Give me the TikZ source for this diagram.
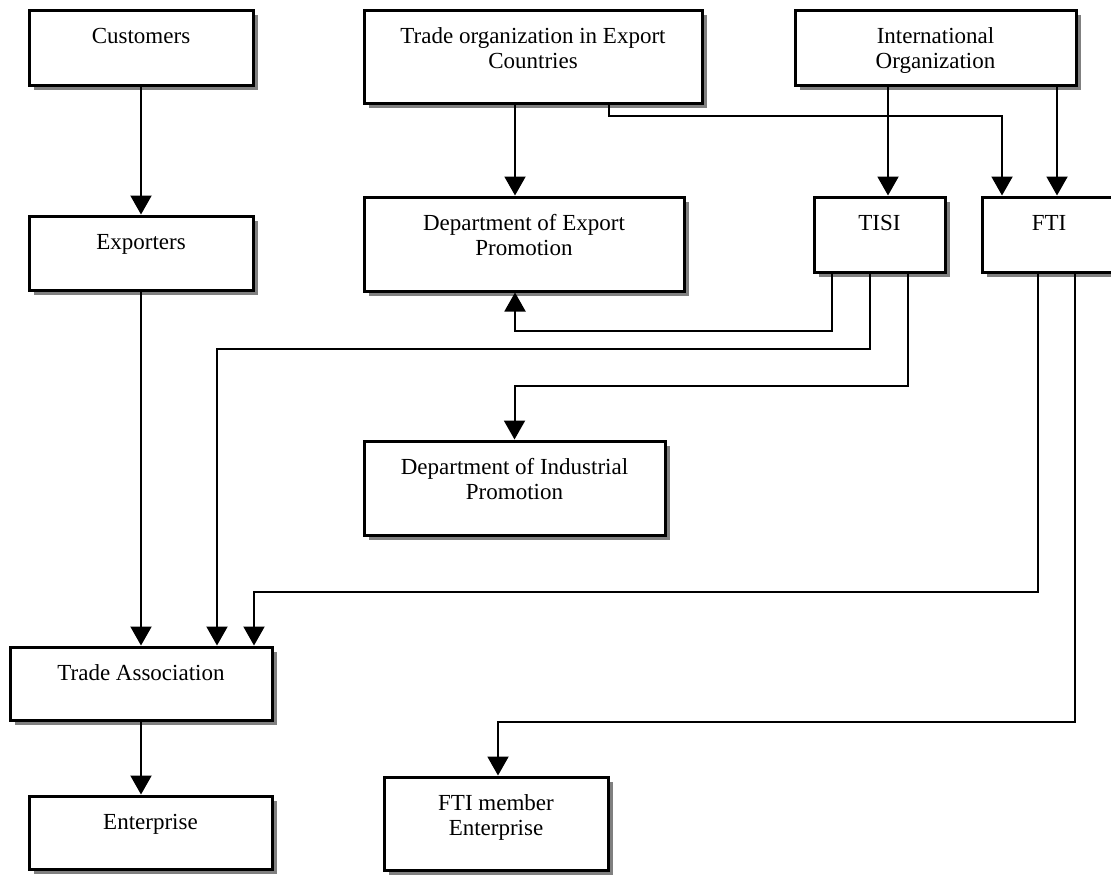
\documentclass[tikz,border=0pt]{standalone}
\usepackage{fontspec}
\setmainfont{Liberation Serif}
\usetikzlibrary{arrows.meta,shadows}
\tikzset{
  box/.style={draw=black, line width=1.5pt, fill=white, inner sep=0pt,
    drop shadow={shadow xshift=2.6pt, shadow yshift=-2.6pt, fill=black!50, opacity=1}},
  lbl/.style={anchor=north, inner sep=0pt, align=center, yshift=-8.5pt,
    font=\fontsize{11.5}{12.5}\selectfont},
  arr/.style={line width=1pt, -{Triangle[width=10.5pt,length=9.5pt]}},
}
\begin{document}
\begin{tikzpicture}[x=0.5pt,y=-0.5pt]
\useasboundingbox (0,0) rectangle (1111,874);
\clip (0,0) rectangle (1111,874);
% boxes
\node[box, minimum width=112pt, minimum height=37.5pt, label={[lbl]north:\strut Customers}] (cust) at (141,47.5) {};
\node[box, minimum width=112pt, minimum height=37pt, label={[lbl]north:\strut Exporters}] (exp) at (141,253) {};
\node[box, minimum width=169pt, minimum height=46.5pt, label={[lbl]north:\strut Trade organization in Export\\Countries}] (trade) at (533,56.5) {};
\node[box, minimum width=140.5pt, minimum height=37.5pt, label={[lbl]north:\strut International\\Organization}] (intl) at (935.5,47.5) {};
\node[box, minimum width=160pt, minimum height=47pt, label={[lbl]north:\strut Department of Export\\Promotion}] (dep) at (524,244) {};
\node[box, minimum width=65.5pt, minimum height=37.5pt, label={[lbl]north:\strut TISI}] (tisi) at (879.5,234.5) {};
\node[box, minimum width=67pt, minimum height=37.5pt, label={[lbl]north:\strut FTI}] (fti) at (1049,234.5) {};
\node[box, minimum width=150.5pt, minimum height=47pt, label={[lbl]north:\strut Department of Industrial\\Promotion}] (indp) at (514.5,488) {};
\node[box, minimum width=131pt, minimum height=36.5pt, label={[lbl]north:\strut Trade Association}] (ta) at (141,683.5) {};
\node[box, minimum width=121.5pt, minimum height=36.5pt, label={[lbl]north:\strut Enterprise}] (ent) at (150.5,832.5) {};
\node[box, minimum width=112pt, minimum height=46.5pt, label={[lbl]north:\strut FTI member\\Enterprise}] (ftim) at (496,823.5) {};
% connectors
\draw[arr] (cust.south) -- (exp.north);
\draw[arr] (exp.south) -- (ta.north);
\draw[arr] (ta.south) -- (ta.south |- ent.north);
\draw[arr] ([xshift=-9pt]trade.south) -- ([xshift=-9pt]trade.south |- dep.north);
\draw[arr] ([xshift=38pt]trade.south) -- ++(0,11) -| ([xshift=-23.5pt]fti.north);
\draw[arr] ([xshift=-23.75pt]intl.south) -- ([xshift=-23.75pt]intl.south |- tisi.north);
\draw[arr] ([xshift=60.75pt]intl.south) -- ([xshift=60.75pt]intl.south |- fti.north);
\draw[arr] ([xshift=-23.75pt]tisi.south) -- ++(0,57) -| ([xshift=-4.5pt]dep.south);
\draw[arr] ([xshift=-4.75pt]tisi.south) -- ++(0,75) -| ([xshift=38pt]ta.north);
\draw[arr] ([xshift=14.25pt]tisi.south) -- ++(0,112) -| (indp.north);
\draw[arr] ([xshift=-5.5pt]fti.south) -- ++(0,318) -| ([xshift=56.5pt]ta.north);
\draw[arr] ([xshift=13pt]fti.south) -- ++(0,448) -| ([xshift=1pt]ftim.north);
\end{tikzpicture}
\end{document}
